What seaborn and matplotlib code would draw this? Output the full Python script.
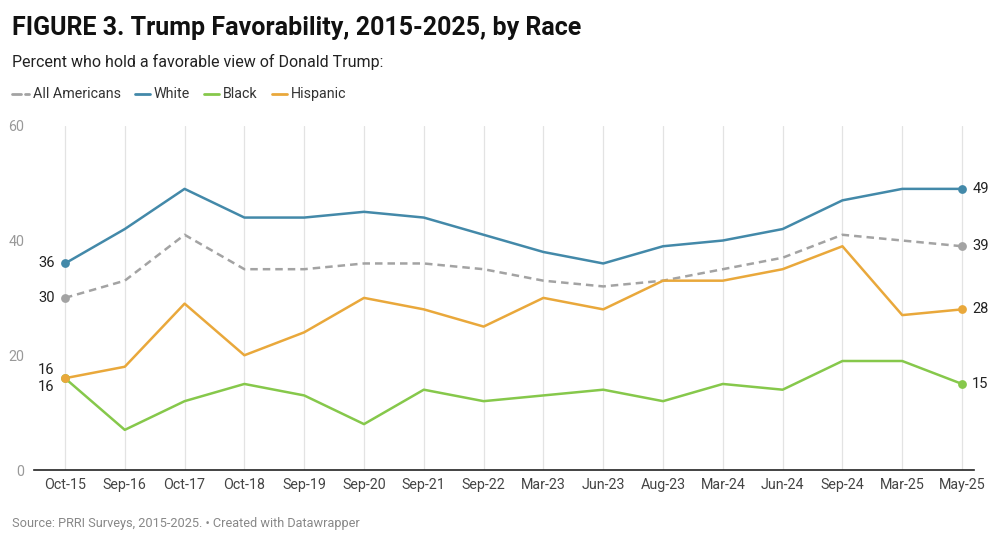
import matplotlib
matplotlib.use("Agg")
import matplotlib.pyplot as plt
import seaborn as sns
import pandas as pd

# ------------------- Données -------------------
dates = ["Oct-15", "Sep-16", "Oct-17", "Oct-18", "Sep-19", "Sep-20", "Sep-21", "Sep-22",
         "Mar-23", "Jun-23", "Aug-23", "Mar-24", "Jun-24", "Sep-24", "Mar-25", "May-25"]
all_americans = [30, 33, 41, 35, 35, 36, 36, 35, 33, 32, 33, 35, 37, 41, 40, 39]
white = [36, 42, 49, 44, 44, 45, 44, 41, 38, 36, 39, 40, 42, 47, 49, 49]
black = [16, 7, 12, 15, 13, 8, 14, 12, 13, 14, 12, 15, 14, 19, 19, 15]
hispanic = [16, 18, 29, 20, 24, 30, 28, 25, 30, 28, 33, 33, 35, 39, 27, 28]
y_ticks = [0, 20, 40, 60]

series = {"All Americans": all_americans, "White": white, "Black": black, "Hispanic": hispanic}
colors = {"All Americans": "#a3a3a3", "White": "#4389a9", "Black": "#86c84b", "Hispanic": "#e9a83b"}

rows = []
for name, vals in series.items():
    for i, (d, v) in enumerate(zip(dates, vals)):
        rows.append({"idx": i, "date": d, "value": v, "group": name})
df = pd.DataFrame(rows)

# ------------------- Figure -------------------
sns.set_style("white")
plt.rcParams["font.family"] = ["Roboto", "DejaVu Sans"]

fig = plt.figure(figsize=(10, 5.43), dpi=100)
ax = fig.add_axes([0.034, 0.1344, 0.94, 0.634])

sns.lineplot(data=df, x="idx", y="value", hue="group", style="group",
             palette=colors, dashes={"All Americans": (3, 2), "White": "", "Black": "", "Hispanic": ""},
             linewidth=1.8, legend=False, ax=ax, zorder=3)

# points aux extrémités
for name, vals in series.items():
    ax.scatter([0, len(dates) - 1], [vals[0], vals[-1]], color=colors[name], s=40, zorder=4,
               linewidths=0)

# étiquettes de début
start_off = {"All Americans": 0, "White": 0, "Black": -1.5, "Hispanic": 1.5}
for name, vals in series.items():
    ax.text(-0.17, vals[0] + start_off[name], f"{vals[0]}", ha="right", va="center",
            fontsize=10.5, color="#222222")
# étiquettes de fin
for name, vals in series.items():
    ax.text(len(dates) - 1 + 0.17, vals[-1], f"{vals[-1]}", ha="left", va="center",
            fontsize=10.5, color="#222222")

ax.set_xlim(-0.518, 15.2)
ax.set_ylim(0, 60)
ax.set_xticks(range(len(dates)))
ax.set_xticklabels(dates, fontsize=10.3, color="#444444")
ax.set_yticks(y_ticks)
ax.set_yticklabels([str(t) for t in y_ticks], fontsize=10.3, color="#999999")
ax.tick_params(axis="x", length=0, pad=6)
ax.tick_params(axis="y", length=0, pad=7)
ax.set_xlabel("")
ax.set_ylabel("")

for i in range(len(dates)):
    ax.axvline(i, color="#e3e3e3", linewidth=0.9, zorder=0)

for s in ["top", "right", "left"]:
    ax.spines[s].set_visible(False)
ax.spines["bottom"].set_color("#222222")
ax.spines["bottom"].set_linewidth(1.2)

# ------------------- Textes -------------------
fig.text(0.012, 0.948, "FIGURE 3. Trump Favorability, 2015-2025, by Race",
         fontsize=18, fontweight="bold", color="#111111", va="center")
fig.text(0.012, 0.885, "Percent who hold a favorable view of Donald Trump:",
         fontsize=11.5, color="#222222", va="center")

# légende
lx = 0.012
ly = 0.826
for name in series:
    if name == "All Americans":
        # tiret long + tiret court
        segs = [(lx, lx + 0.009), (lx + 0.013, lx + 0.017)]
        line_end = lx + 0.017
    else:
        segs = [(lx, lx + 0.015)]
        line_end = lx + 0.015
    for a, b in segs:
        fig.add_artist(plt.Line2D([a, b], [ly, ly], color=colors[name], linewidth=2,
                                  transform=fig.transFigure))
    t = fig.text(line_end + 0.004, ly, name, fontsize=10.3, color="#333333", va="center")
    fig.canvas.draw()
    bb = t.get_window_extent()
    lx = bb.x1 / fig.bbox.width + 0.014

fig.text(0.012, 0.036, "Source: PRRI Surveys, 2015-2025. • Created with Datawrapper",
         fontsize=9.2, color="#888888", va="center")

fig.savefig("out.png", dpi=100)
